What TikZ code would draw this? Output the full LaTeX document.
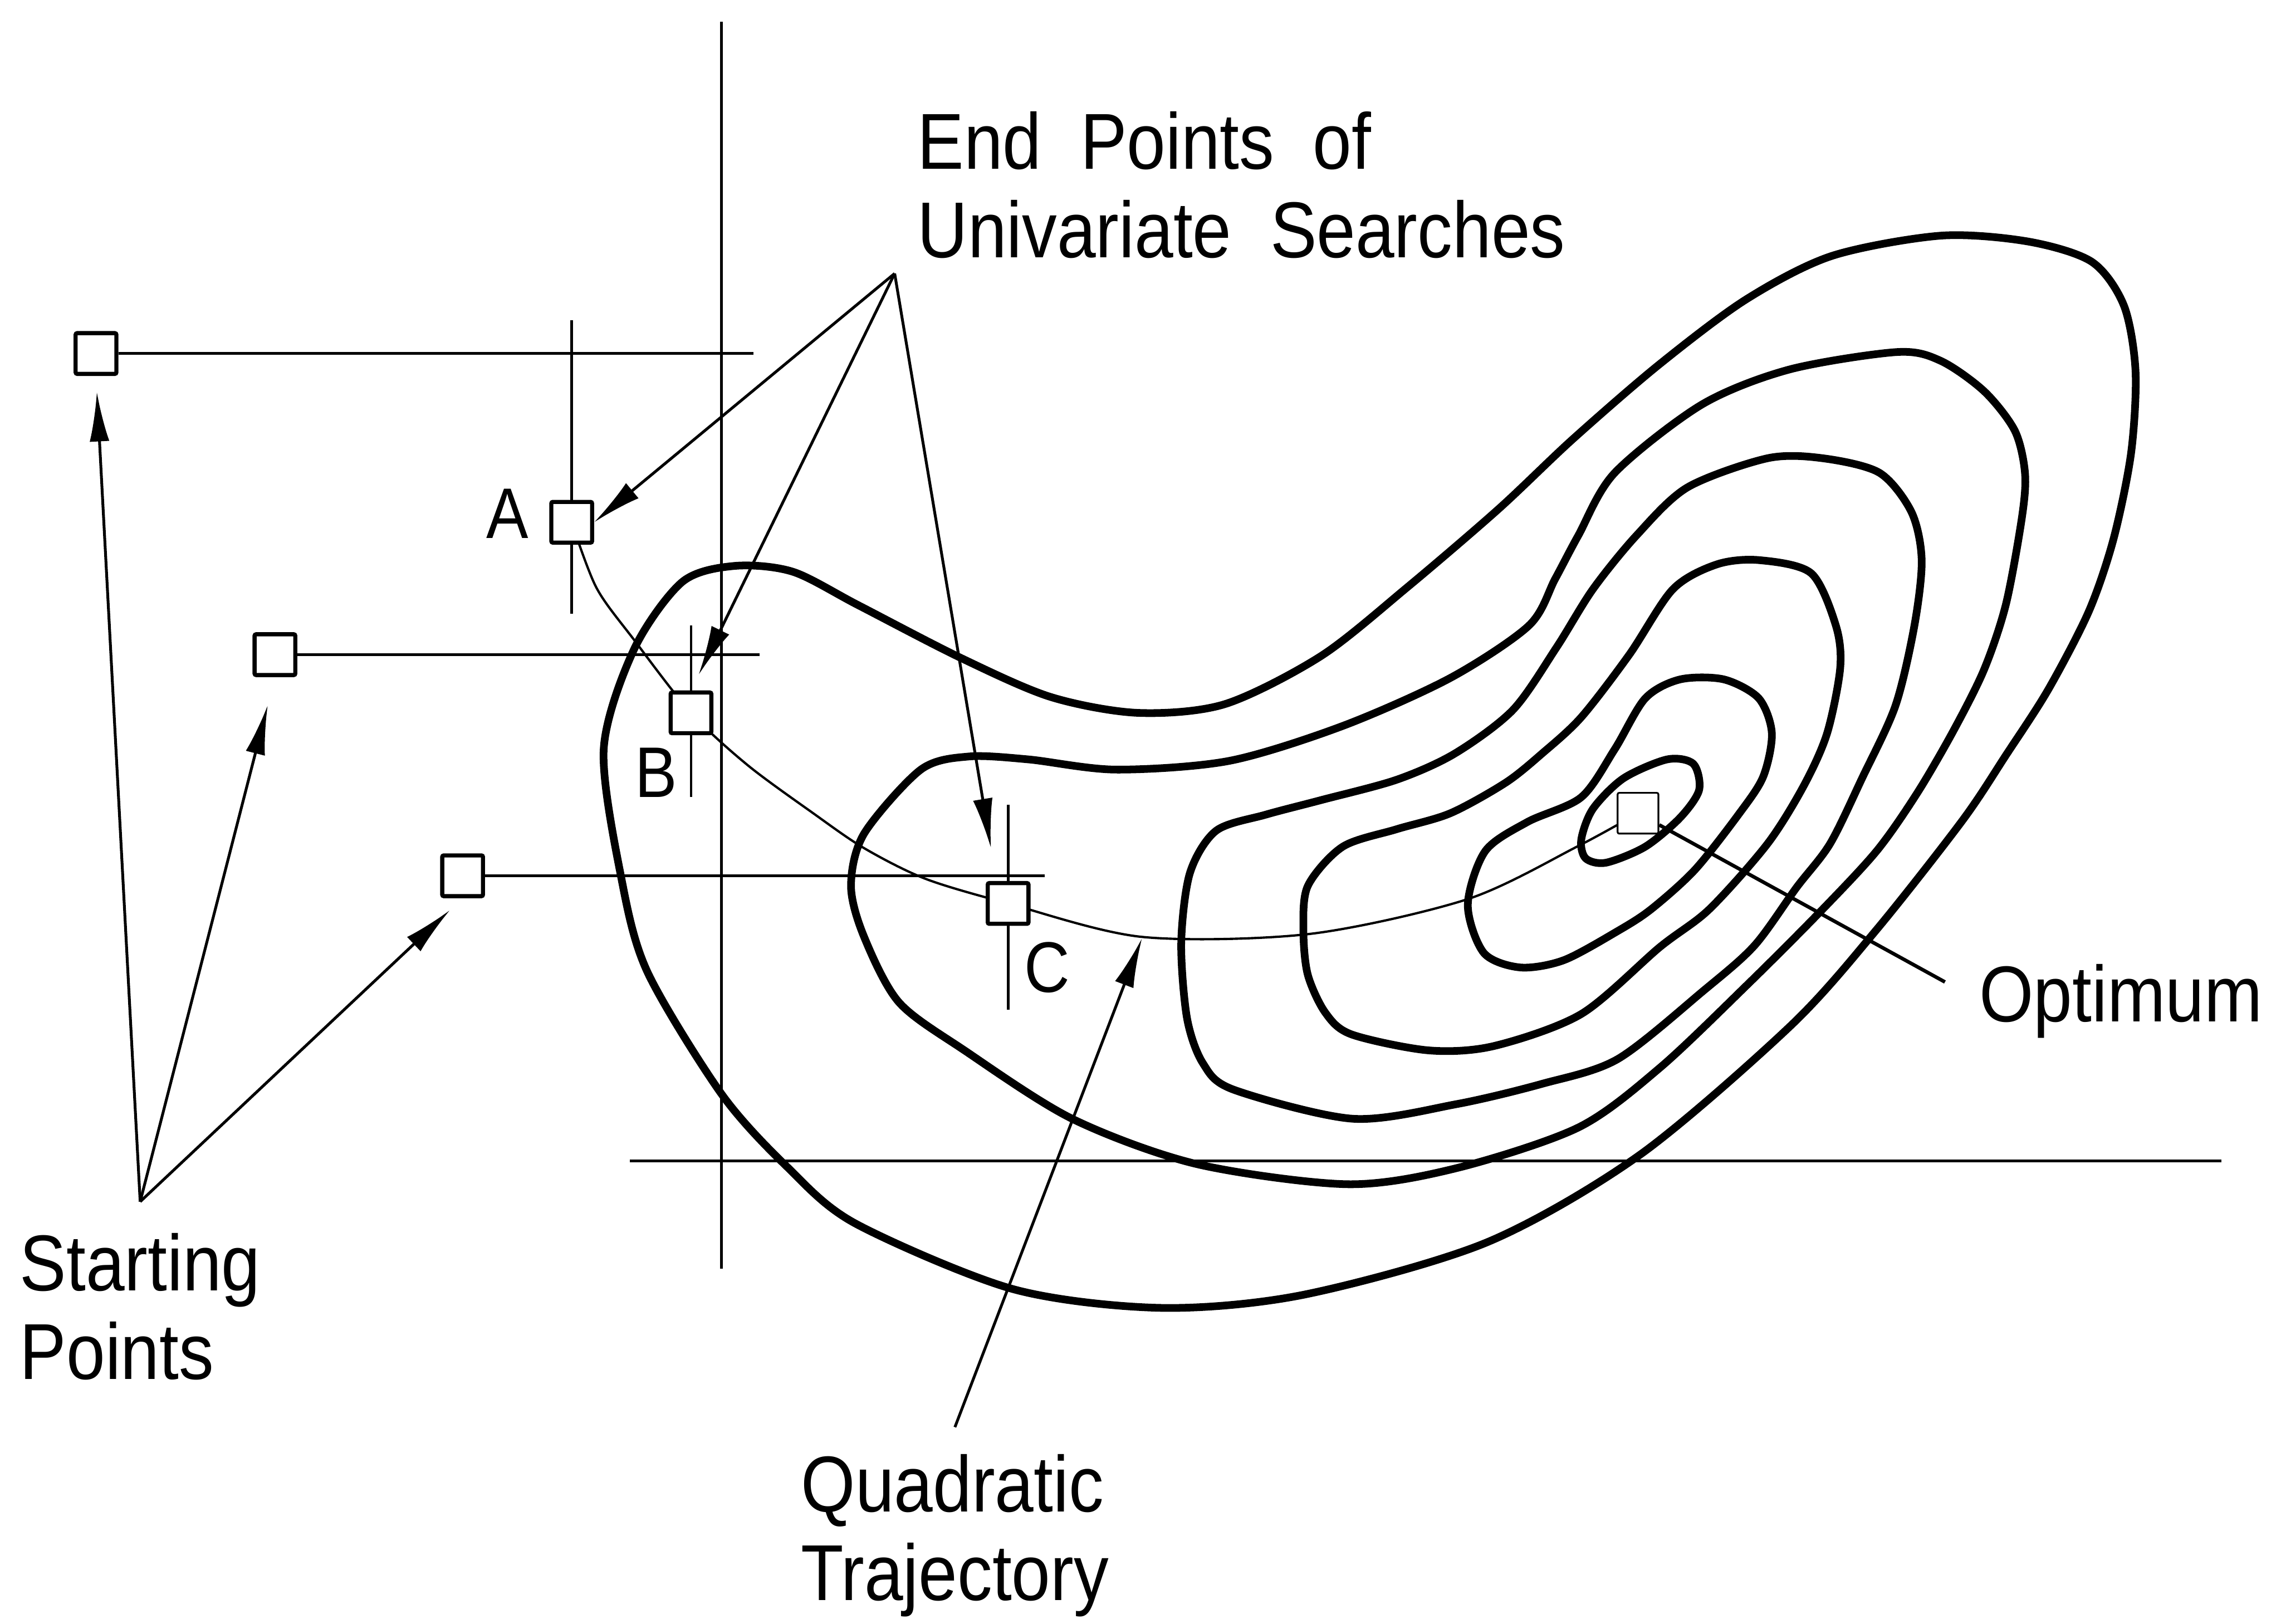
\documentclass[tikz,border=0pt]{standalone}
\usepackage{fontspec}
\setmainfont{Liberation Sans}[FakeStretch=0.88, WordSpace=2]
\usetikzlibrary{arrows.meta, positioning, backgrounds}

\begin{document}
\begin{tikzpicture}[
    x=0.01cm, y=-0.01cm,
    font=\fontsize{15.5pt}{17.3pt}\selectfont,
    arr/.style={-{Latex[length=3.4mm, width=1.35mm]}, line width=0.55pt},
    guide/.style={line width=0.5pt},
    contour/.style={line width=1.5pt, line join=round},
    traj/.style={line width=0.45pt},
    pt/.style={
        rectangle, draw, line width=0.8pt, fill=white,
        rounded corners=0.3pt, minimum size=2.8mm, inner sep=0pt
    },
    optpt/.style={pt, line width=0.35pt},
    lbl/.style={align=left, inner sep=0pt, anchor=north west},
    tag/.style={inner sep=0pt, font=\fontsize{14pt}{16pt}\selectfont},
]
    \useasboundingbox (0,0) rectangle (1568,1116);

    % Starting points and end points of the univariate searches
    \node[pt]    (s1)  at (66,243)   {};
    \node[pt]    (s2)  at (189,450)  {};
    \node[pt]    (s3)  at (318,602)  {};
    \node[pt]    (a)   at (393,359)  {};
    \node[pt]    (b)   at (475,490)  {};
    \node[pt]    (c)   at (693,621)  {};
    \node[optpt] (opt) at (1126,559) {};

    \node[tag] at (349,353) {A};
    \node[tag] at (451,531) {B};
    \node[tag] at (720,665) {C};

    \begin{scope}[on background layer]
        % Contours of the objective function
        \draw[contour] plot[smooth cycle, tension=0.5] coordinates {
            (415,515) (436,446) (469,400) (505,389) (545,393) (590,416)
            (660,452) (722,479) (782,490) (842,484) (908,451) (967,404)
            (1030,350) (1081,302) (1140,251) (1200,206) (1259,176) (1334,162)
            (1394,166) (1438,180) (1460,210) (1468,255) (1465,311) (1453,370)
            (1436,420) (1408,474) (1379,519) (1349,564) (1290,639) (1231,705)
            (1127,794) (1022,854) (896,890) (798,899) (696,886) (588,841)
            (541,802) (496,752) (445,668) (427,603)};
        \draw[contour] plot[smooth cycle, tension=0.5] coordinates {
            (585,609) (594,573) (633,529) (666,520) (707,522) (767,529)
            (845,523) (923,499) (997,466) (1051,430) (1069,398) (1085,368)
            (1110,325) (1170,278) (1230,254) (1304,242) (1334,248) (1364,269)
            (1385,296) (1392,325) (1390,355) (1379,415) (1364,460) (1343,502)
            (1318,545) (1290,585) (1250,628) (1201,677) (1141,734) (1085,775)
            (1001,803) (926,814) (822,800) (737,769) (663,722) (618,689)
            (594,644)};
        \draw[contour] plot[smooth cycle, tension=0.5] coordinates {
            (812,648) (818,600) (836,571) (870,560) (908,550) (960,536)
            (1000,518) (1040,488) (1070,445) (1095,405) (1125,368) (1160,335)
            (1215,315) (1253,315) (1292,325) (1314,352) (1321,385) (1316,430)
            (1303,485) (1280,535) (1258,580) (1235,610) (1206,650) (1171,681)
            (1112,728) (1060,745) (1001,759) (930,769) (848,749) (827,731)
            (816,700)};
        \draw[contour] plot[smooth cycle, tension=0.5] coordinates {
            (896,640) (899,609) (923,582) (960,570) (997,559) (1035,538)
            (1060,518) (1087,493) (1120,450) (1150,405) (1180,388) (1209,385)
            (1245,394) (1262,430) (1265,459) (1256,504) (1240,540) (1215,580)
            (1175,625) (1141,651) (1087,697) (1027,719) (982,722) (929,711)
            (911,696) (899,670)};
        \draw[contour] plot[smooth cycle, tension=0.5] coordinates {
            (1009,622) (1021,585) (1050,565) (1087,548) (1110,515) (1131,480)
            (1155,467) (1185,467) (1209,480) (1218,504) (1212,534) (1195,560)
            (1165,598) (1135,625) (1112,640) (1075,660) (1045,665) (1020,655)};
        \draw[contour] plot[smooth cycle, tension=0.5] coordinates {
            (1087,577) (1095,556) (1116,535) (1146,522) (1164,525) (1168,543)
            (1155,562) (1131,582) (1104,593) (1090,590)};

        % Axes
        \draw[guide] (496,15) -- (496,872);
        \draw[guide] (433,798) -- (1527,798);

        % Univariate search directions
        \draw[guide] (s1) -- (s1 -| 518,0);
        \draw[guide] (s2) -- (s2 -| 522,0);
        \draw[guide] (s3) -- (s3 -| 718,0);
        \draw[guide] (a |- 0,220) -- (a |- 0,422);
        \draw[guide] (b |- 0,430) -- (b |- 0,548);
        \draw[guide] (c |- 0,553) -- (c |- 0,694);

        % Quadratic trajectory through A, B, C to the optimum
        \draw[traj] plot[smooth, tension=0.5] coordinates {
            (a) (410,404) (436,440) (b) (514,526) (559,559) (594,583)
            (636,604) (c) (785,644) (900,642) (1009,618) (1084,582) (opt)};
    \end{scope}

    % Labels
    \node[lbl] (endpts) at (630,76)   {End Points of\\Univariate Searches};
    \node[lbl] (start)  at (13,847)   {Starting\\Points};
    \node[lbl] (quad)   at (550,999)  {Quadratic\\Trajectory};
    \node[lbl] (optlbl) at (1360,662) {Optimum};

    \coordinate (ep)   at (615,188);
    \coordinate (sp)   at ([yshift=2.1mm]start.north);
    \coordinate (qt)   at ([yshift=1.8mm]quad.north);
    \coordinate (qtip) at (785,645);
    \coordinate (oend) at (1337,675);

    \draw[arr, shorten >=1.1mm] (sp) -- (s1.south);
    \draw[arr, shorten >=2mm]   (sp) -- (s2.south);
    \draw[arr, shorten >=1.2mm] (sp) -- (s3.south);

    \draw[arr] (ep) -- (a.east);
    \draw[arr, shorten >=1.2mm] (ep) -- (b.north);
    \draw[arr, shorten >=2.3mm] (ep) -- ([xshift=-0.8mm]c.north);

    \draw[arr] (qt) -- (qtip);
    \draw[line width=0.7pt] (opt) -- (oend);

\end{tikzpicture}
\end{document}
